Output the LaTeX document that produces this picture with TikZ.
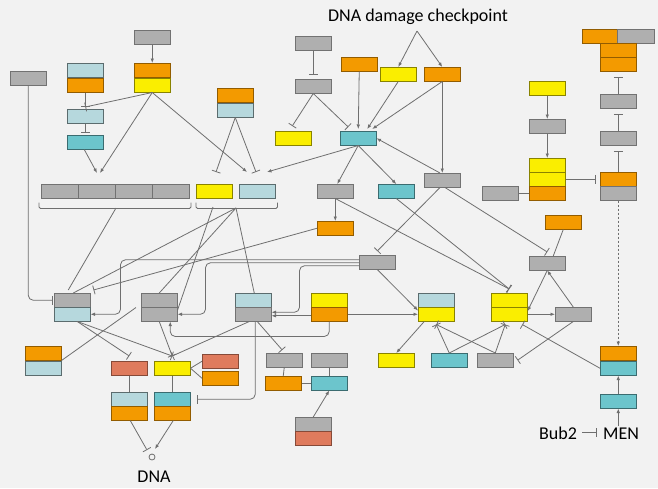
\documentclass[tikz,border=0pt]{standalone}
\usepackage{fontspec}
\setmainfont{Carlito}
\usetikzlibrary{arrows.meta,calc}
\definecolor{bgc}{HTML}{F2F2F2}
\definecolor{cgr}{HTML}{AFAFAF}
\definecolor{cor}{HTML}{F39A00}
\definecolor{cye}{HTML}{FAEE00}
\definecolor{clb}{HTML}{B6D8DD}
\definecolor{cte}{HTML}{6CC5CC}
\definecolor{csa}{HTML}{DF7B5D}
\definecolor{lncol}{HTML}{6F6F6F}
\begin{document}
\begin{tikzpicture}[x=1pt,y=-1pt,
  cell/.style={anchor=north west, minimum width=36.5pt, minimum height=14.5pt, inner sep=0pt, outer sep=0pt, line width=0.8pt},
  gr/.style={cell, fill=cgr, draw=cgr!65!black},
  orn/.style={cell, fill=cor, draw=cor!60!black},
  yel/.style={cell, fill=cye, draw=cye!55!black},
  lbx/.style={cell, fill=clb, draw=clb!50!black},
  tea/.style={cell, fill=cte, draw=cte!55!black},
  sal/.style={cell, fill=csa, draw=csa!60!black},
  conn/.style={draw=lncol, line width=0.8pt},
  arw/.style={-{Latex[length=4.5pt,width=3.6pt]}},
  inh/.style={-{Bar[width=9pt]}},
  lbl/.style={font=\fontsize{18}{20}\selectfont, inner sep=1pt, text=black}
]
\fill[bgc] (0,0) rectangle (658,488);
\useasboundingbox (0,0) rectangle (658,488);

% ---- nodes ----
\node[gr] (a1) at (10,71) {};
\node[lbx] (b1a) at (67,63) {};
\node[orn] (b1b) at (67,78) {};
\node[lbx] (b2) at (67,109) {};
\node[tea] (b3) at (67,135) {};
\node[gr] (c0) at (134,30) {};
\node[orn] (c1a) at (134,63) {};
\node[yel] (c1b) at (134,78) {};
\node[gr,minimum width=37pt] (g4a) at (41,184) {};
\node[gr,minimum width=37pt] (g4b) at (78,184) {};
\node[gr,minimum width=37pt] (g4c) at (115,184) {};
\node[gr,minimum width=37pt] (g4d) at (152,184) {};
\node[orn] (d1a) at (217,88) {};
\node[lbx] (d1b) at (217,103) {};
\node[yel] (f2y) at (196,184) {};
\node[lbx] (f2l) at (239,184) {};
\node[gr] (e0) at (295,36) {};
\node[gr] (e2) at (295,79) {};
\node[yel] (f1) at (275,131) {};
\node[tea] (e1) at (340,131) {};
\node[orn] (g1) at (341,57) {};
\node[yel] (g2) at (380,67) {};
\node[orn] (g3) at (424,67) {};
\node[gr] (h1) at (424,173) {};
\node[gr] (i1) at (317,184) {};
\node[tea] (i2) at (378,184) {};
\node[orn] (j1) at (317,221) {};
\node[gr] (x1) at (359,255) {};
\node[gr] (l1a) at (54,293) {};
\node[lbx] (l1b) at (54,307) {};
\node[gr] (l2a) at (141,293) {};
\node[gr] (l2b) at (141,307) {};
\node[lbx] (ya) at (235,293) {};
\node[gr] (yb) at (235,307) {};
\node[yel] (za) at (311,293) {};
\node[orn] (zb) at (311,307) {};
\node[lbx] (qa) at (418,293) {};
\node[yel] (qb) at (418,307) {};
\node[yel] (ka) at (491,293) {};
\node[yel] (kb) at (491,307) {};
\node[gr] (m1) at (529,256) {};
\node[orn] (n1) at (545,215) {};
\node[gr] (m2) at (555,307) {};
\node[tea] (p1) at (431,353) {};
\node[gr] (p2) at (477,353) {};
\node[yel] (am) at (378,353) {};
\node[orn] (r1a) at (600,346) {};
\node[tea] (r1b) at (600,361) {};
\node[tea] (r2) at (600,394) {};
\node[orn] (s1a) at (600,172) {};
\node[gr] (s1b) at (600,186) {};
\node[gr] (u2) at (600,131) {};
\node[gr] (u1) at (600,94) {};
\node[orn,minimum width=35pt] (t0) at (582,29) {};
\node[gr,minimum width=37pt] (t0g) at (617,29) {};
\node[orn] (t1) at (600,43) {};
\node[orn] (t2) at (600,57) {};
\node[yel] (v1) at (529,81) {};
\node[gr] (v2) at (529,119) {};
\node[yel] (v3a) at (529,158) {};
\node[yel] (v3b) at (529,172) {};
\node[orn] (v3c) at (529,186) {};
\node[gr] (w1) at (482,186) {};
\node[orn] (aga) at (25,346) {};
\node[lbx] (agb) at (25,361) {};
\node[sal] (aa) at (111,361) {};
\node[yel] (ab) at (154,361) {};
\node[sal] (ac) at (202,354) {};
\node[orn] (ad) at (202,371) {};
\node[lbx] (aea) at (111,392) {};
\node[orn] (aeb) at (111,406) {};
\node[tea] (afa) at (154,392) {};
\node[orn] (afb) at (154,406) {};
\node[gr] (ah) at (266,353) {};
\node[orn] (ai) at (265,376) {};
\node[gr] (aj) at (311,353) {};
\node[tea] (ak) at (311,376) {};
\node[gr] (ala) at (295,417) {};
\node[sal] (alb) at (295,431) {};

\node[lbl, anchor=base] (ddc) at (418,21) {DNA damage checkpoint};
\node[lbl, anchor=base] (dnal) at (154,482) {DNA};
\node[lbl, anchor=base] (bub) at (558,439) {Bub2};
\node[lbl, anchor=base] (men) at (621,439) {MEN};
\node[draw=lncol, circle, minimum size=6pt, inner sep=0pt, line width=0.8pt] (dnac) at (152,457) {};

% ---- free-end coordinates ----
\coordinate (br1a) at (97,173);
\coordinate (br1b) at (100,173);
\coordinate (tY1) at (216,172);
\coordinate (aL1) at (247,172);
\coordinate (tL1) at (256,172);
\coordinate (aL2) at (267,172);
\coordinate (hub1) at (116,208);
\coordinate (hub2) at (236,208);
\coordinate (hub2y) at (213,207);
\coordinate (apex) at (417,31);

% ---- brackets ----
\draw[conn, rounded corners=1.5pt] ([xshift=-2pt,yshift=-4pt]g4a.south west) -- ([xshift=-2pt,yshift=-10pt]g4a.south west) -- ([xshift=2pt,yshift=-10pt]g4d.south east) -- ([xshift=2pt,yshift=-4pt]g4d.south east);
\draw[conn, rounded corners=1.5pt] ([yshift=-4pt]f2y.south west) -- ([yshift=-10pt]f2y.south west) -- ([xshift=2pt,yshift=-10pt]f2l.south east) -- ([xshift=2pt,yshift=-4pt]f2l.south east);

% ---- connectors: top left ----
\draw[conn,arw] (c0.south) -- (c1a.north);
\draw[conn,inh] (b1b.south) -- ([yshift=2pt]b2.north);
\draw[conn,inh] (c1b.south) -- ([yshift=2pt]b2.north);
\draw[conn,inh] (b2.south) -- ([yshift=2pt]b3.north);
\draw[conn,arw] ([xshift=-1pt]b3.south) -- (br1a);
\draw[conn,arw] (c1b.south) -- (br1b);
\draw[conn,arw] (c1b.south) -- (aL1);
\draw[conn,inh] (d1b.south) -- (tY1);
\draw[conn,inh] (d1b.south) -- (tL1);
\draw[conn,arw] (e1.south) -- (aL2);

% ---- hubs to lower nodes ----
\draw[conn] (hub1) -- ([xshift=-4pt,yshift=3pt]l1a.north);
\draw[conn] (hub2) -- ([xshift=1pt]l1a.north);
\draw[conn] (hub2) -- (l2a.north);
\draw[conn] (hub2) -- ([xshift=1pt]ya.north);
\draw[conn] (hub2y) -- ([yshift=4pt]l2b.east);
\draw[conn,inh,rounded corners=5pt] (a1.south) |- ([xshift=-1pt]l1a.west);
\draw[conn,inh] (j1.west) -- ([xshift=3pt,yshift=3pt]l1a.north east);

% ---- X1 loops ----
\draw[conn,arw,rounded corners=5pt] ([yshift=2.5pt]x1.west) -| ([xshift=30pt]l1b.east) -- (l1b.east);
\draw[conn,arw,rounded corners=5pt] ([yshift=-0.5pt]x1.west) -| ([xshift=28pt]l2b.east) -- (l2b.east);
\draw[conn,arw,rounded corners=5pt] ([yshift=-3.5pt]x1.west) -| ([xshift=28pt,yshift=2pt]yb.east) -- ([yshift=2pt]yb.east);
\draw[conn,arw] ([yshift=-1.5pt]zb.west) -- ([yshift=-1.5pt]yb.east);
\draw[conn,arw] (zb.east) -- (qb.west);
\draw[conn,arw,rounded corners=5pt] (zb.south) |- ([xshift=11pt,yshift=-15pt]l2b.south) -- ([xshift=11pt]l2b.south);
\draw[conn,arw] (x1.south) -- ([yshift=-3pt]qa.south west);

% ---- checkpoint region ----
\draw[conn,inh] ([xshift=16pt]h1.south west) -- ([yshift=4pt]x1.north);
\draw[conn,inh] ([xshift=21pt]h1.south west) -- ([yshift=4pt]m1.north);
\draw[conn,arw] (g3.south) -- (h1.north);
\draw[conn,arw] ([xshift=16pt]h1.north west) -- (e1.east);
\draw[conn,arw] (e1.south) -- ([xshift=2pt]i1.north);
\draw[conn,arw] (e1.south) -- (i2.north);
\draw[conn,arw] (i1.south) -- (j1.north);
\draw[conn,inh] (i1.south) -- ([yshift=4pt]ka.north);
\draw[conn,inh] (i2.south) -- ([yshift=4pt]ka.north);
\draw[conn,inh] (e0.south) -- ([yshift=4pt]e2.north);
\draw[conn,inh] (e2.south) -- ([xshift=-1pt,yshift=5pt]f1.north);
\draw[conn,inh] (e2.south) -- ([xshift=-10pt,yshift=4pt]e1.north);
\draw[conn,arw] (g1.south) -- ([yshift=2pt]e1.north);
\draw[conn,arw] (g2.south) -- ([xshift=9pt,yshift=2pt]e1.north);
\draw[conn,arw] (g3.south) -- ([xshift=14pt,yshift=2pt]e1.north);
\draw[conn,arw] (apex) -- (g2.north);
\draw[conn,arw] (apex) -- (g3.north);

% ---- right column ----
\draw[conn,arw] (v1.south) -- (v2.north);
\draw[conn,arw] (v2.south) -- (v3a.north);
\draw[conn,inh] (v3b.east) -- ([xshift=-4pt]s1a.west);
\draw[conn] (w1.east) -- (v3c.west);
\draw[conn,inh] (s1a.north) -- ([yshift=-5pt]u2.south);
\draw[conn,inh] (u2.north) -- ([yshift=-5pt]u1.south);
\draw[conn,inh] (u1.north) -- ([yshift=-5pt]t2.south);
\draw[conn,arw,dash pattern=on 2pt off 2pt] (s1b.south) -- (r1a.north);
\draw[conn,arw] (r2.north) -- (r1b.south);
\draw[conn,arw] (r2.south |- men.north) -- (r2.south);
\draw[conn,inh] ($(bub.east)+(4,0)$) -- ($(bub.east -| men.west)+(-5,0)$);
\draw[conn,inh] (r1b.west) -- ([xshift=13pt,yshift=-3pt]kb.south);
\draw[conn,inh] (p1.north) -- ([yshift=-3pt]qb.south);
\draw[conn,inh] (p1.north) -- ([xshift=-4pt,yshift=-3pt]kb.south);
\draw[conn,inh] (p2.north) -- ([yshift=-3pt]qb.south);
\draw[conn,inh] (p2.north) -- ([xshift=-4pt,yshift=-3pt]kb.south);
\draw[conn,inh] (m2.south) -- ([xshift=4pt]p2.east);
\draw[conn,arw] (m1.south) -- ([yshift=3pt]kb.east);
\draw[conn,arw] (kb.east) -- (m2.west);
\draw[conn,arw] (m2.north) -- (m1.south);
\draw[conn] (n1.south) -- ([xshift=6pt]m1.north);
\draw[conn,arw] ([xshift=-12pt]qb.south) -- (am.north);

% ---- bottom left ----
\draw[conn] (aga.south east) -- ([xshift=-5pt]l2a.south west);
\draw[conn,inh] ([xshift=5pt]l1b.south) -- ([yshift=5pt]aa.north);
\draw[conn,inh] ([xshift=5pt]l1b.south) -- ([yshift=5pt]ab.north);
\draw[conn,inh] (l2b.south) -- ([yshift=5pt]ab.north);
\draw[conn,inh] ([xshift=-4pt]yb.south) -- ([yshift=5pt]ab.north);
\draw[conn,inh,rounded corners=5pt] ([xshift=2pt]yb.south) |- ([xshift=6pt]afa.east);
\draw[conn,inh] ([xshift=4pt]yb.south) -- ([xshift=-2pt,yshift=3pt]ah.north);
\draw[conn] (ah.south) -- (ai.north);
\draw[conn] (aj.south) -- (ak.north);
\draw[conn] (ai.east) -- (ak.west);
\draw[conn,arw] (ala.north) -- (ak.south);
\draw[conn] (aa.south) -- (aea.north);
\draw[conn] (ab.south) -- (afa.north);
\draw[conn] (ab.east) -- (ac.west);
\draw[conn] (ab.east) -- (ad.west);
\draw[conn,inh] ([xshift=1pt]aeb.south) -- ([xshift=-5pt,yshift=7pt]dnac.center);
\draw[conn,arw] ([xshift=1pt]afb.south) -- ([xshift=3pt,yshift=8pt]dnac.center);
\end{tikzpicture}
\end{document}
